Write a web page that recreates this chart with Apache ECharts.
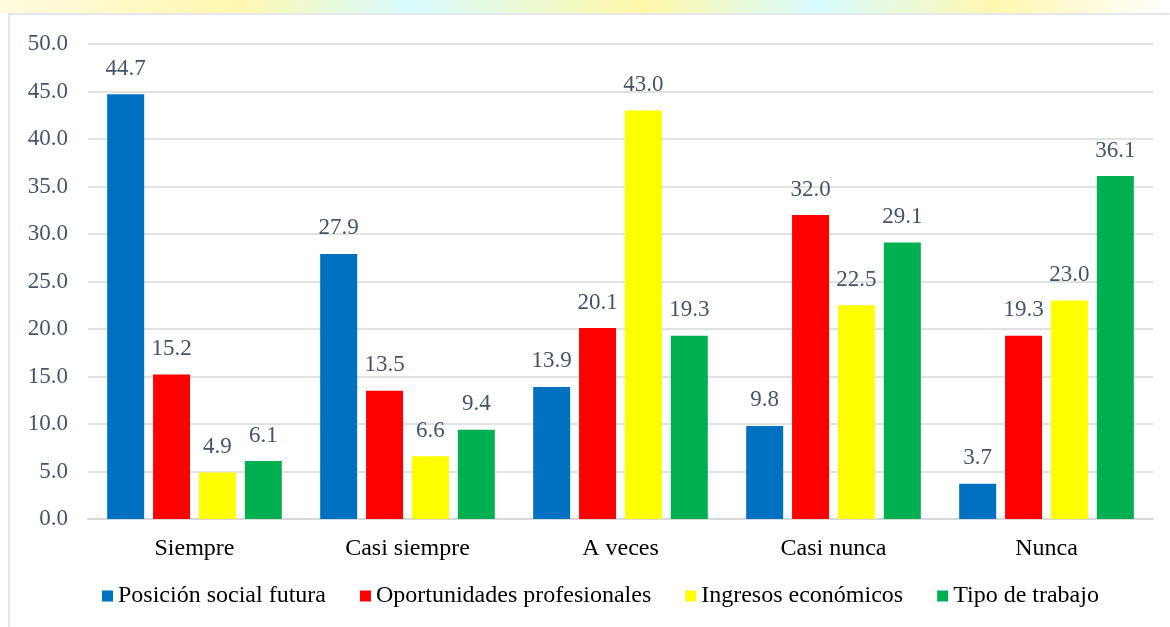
<!DOCTYPE html>
<html>
<head>
<meta charset="utf-8">
<script src="https://cdn.jsdelivr.net/npm/echarts@6/dist/echarts.min.js"></script>
<style>
    html,body{margin:0;padding:0;background:#fff;}
    #strip{position:absolute;left:0;top:0;width:1170px;height:13px;
        background:linear-gradient(90deg,#fffbe0 0%,#fff7b0 20%,#d8fbff 35%,#fff7a8 55%,#d8fbff 70%,#fff7b0 85%,#fff 100%);}
    #frame{position:absolute;left:8px;top:13px;width:1170px;height:620px;
        border-left:2px solid #e4e8ee;border-top:2px solid #e4e8ee;box-sizing:border-box;}
    #chart01{position:absolute;left:0;top:0;width:1170px;height:627px;}
</style>
</head>
<body>
<div id="strip"></div>
<div id="frame"></div>
<div id="chart01"></div>
<script>
var categories = ['Siempre','Casi siempre','A veces','Casi nunca','Nunca'];
var seriesNames = ['Posición social futura','Oportunidades profesionales','Ingresos económicos','Tipo de trabajo'];
var posicion = [44.7, 27.9, 13.9, 9.8, 3.7];
var oportunidades = [15.2, 13.5, 20.1, 32.0, 19.3];
var ingresos = [4.9, 6.6, 43.0, 22.5, 23.0];
var tipo = [6.1, 9.4, 19.3, 29.1, 36.1];
var colors = ['#0070c0','#ff0000','#ffff00','#00b050'];

var font = 'Liberation Serif';
var data = [posicion, oportunidades, ingresos, tipo];
var series = [];
for(var i=0;i<data.length;i++){
    series.push({
        name: seriesNames[i],
        type: 'bar',
        barWidth: 37,
        barGap: '24%',
        itemStyle: {color: colors[i]},
        label: {
            show: true,
            position: 'top',
            distance: 14,
            color: '#44546a',
            fontFamily: font,
            fontSize: 23,
            formatter: function(p){ return p.value.toFixed(1); }
        },
        data: data[i]
    });
}

var myChart = echarts.init(document.getElementById('chart01'));
var option = {
    animation: false,
    color: colors,
    grid: {left: 88, right: 17, top: 44, bottom: 108},
    legend: {
        bottom: 14,
        left: 97,
        itemWidth: 11,
        itemHeight: 11,
        itemGap: 34,
        icon: 'rect',
        textStyle: {color: '#000', fontFamily: font, fontSize: 24},
        data: seriesNames
    },
    xAxis: {
        type: 'category',
        data: categories,
        axisTick: {show: false},
        axisLine: {lineStyle: {color: '#d9d9d9', width: 2}},
        axisLabel: {color: '#000', fontFamily: font, fontSize: 24, margin: 18}
    },
    yAxis: {
        type: 'value',
        min: 0,
        max: 50,
        interval: 5,
        axisLine: {show: false},
        axisTick: {show: false},
        axisLabel: {
            color: '#44546a', fontFamily: font, fontSize: 23, margin: 20,
            formatter: function(v){ return v.toFixed(1); }
        },
        splitLine: {lineStyle: {color: '#d9d9d9', width: 1.5}}
    },
    series: series
};
myChart.setOption(option);
</script>
</body>
</html>
